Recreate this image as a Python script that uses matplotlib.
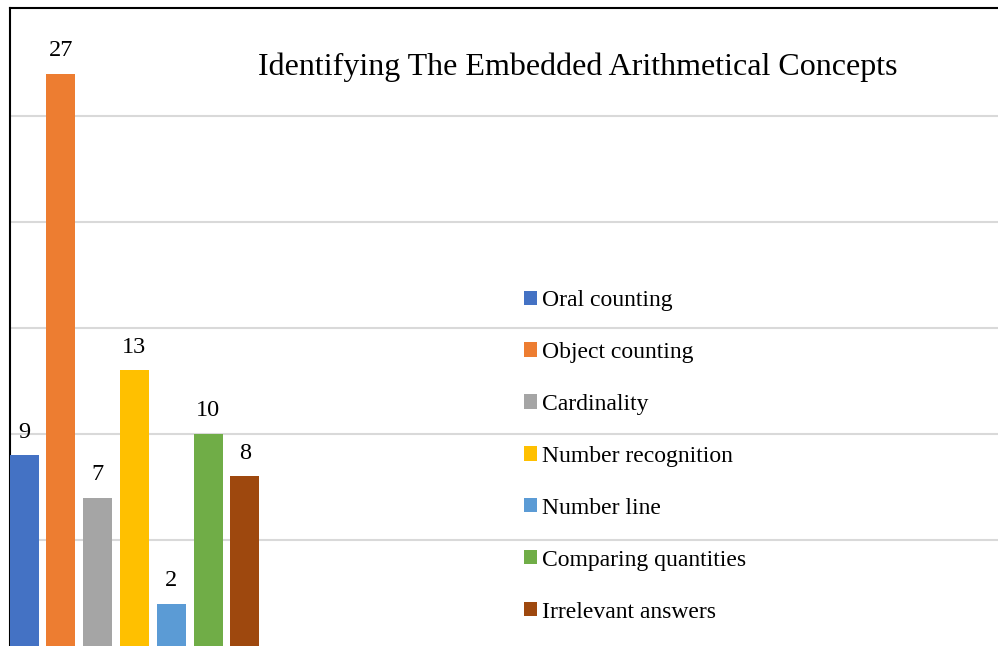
import matplotlib
matplotlib.use("Agg")
import matplotlib.pyplot as plt
from matplotlib.patches import Patch

categories = ["Oral counting", "Object counting", "Cardinality", "Number recognition",
              "Number line", "Comparing quantities", "Irrelevant answers"]
values = [9, 27, 7, 13, 2, 10, 8]
colors = ["#4472C4", "#ED7D31", "#A5A5A5", "#FFC000", "#5B9BD5", "#70AD47", "#9E480E"]
title = "Identifying The Embedded Arithmetical Concepts"

plt.rcParams['font.family'] = ['Liberation Serif', 'DejaVu Serif']

W, H = 998, 646
fig = plt.figure(figsize=(W / 100, H / 100), dpi=100)
ax = fig.add_axes([9.5 / W, 0, 1 - 9.5 / W, (H - 8) / H])

x = list(range(len(values)))
bw = 0.79
bars = ax.bar(x, values, width=bw, color=colors, zorder=3)
for xi, v in zip(x, values):
    ax.annotate(str(v), (xi, v), xytext=(0, 9), textcoords="offset points",
                ha="center", va="bottom", fontsize=17.5, color="#000000")

ax.set_ylim(0, 638 / 21.2)
ax.set_xlim(-bw / 2, -bw / 2 + 988.5 / 36.8)
ax.set_yticks([5, 10, 15, 20, 25])
ax.yaxis.grid(True, color="#D9D9D9", linewidth=1.5, zorder=0)
ax.tick_params(left=False, bottom=False, labelleft=False, labelbottom=False)
for s in ["right", "bottom"]:
    ax.spines[s].set_visible(False)
ax.spines["left"].set_linewidth(1.5)
ax.spines["top"].set_linewidth(1.5)
ax.spines["left"].set_color("#000000")
ax.spines["top"].set_color("#000000")

fig.text(578 / W, 1 - 67 / H, title, ha="center", va="center", fontsize=23)

handles = [Patch(facecolor=c, edgecolor="none") for c in colors]
leg = fig.legend(handles, categories, loc="upper left",
                 bbox_to_anchor=(524 / W, 1 - 290 / H), frameon=False,
                 fontsize=17, handlelength=0.55, handleheight=0.55,
                 handletextpad=0.22, labelspacing=1.31, borderpad=0, borderaxespad=0)

fig.savefig("out.png", dpi=100, facecolor="white")
